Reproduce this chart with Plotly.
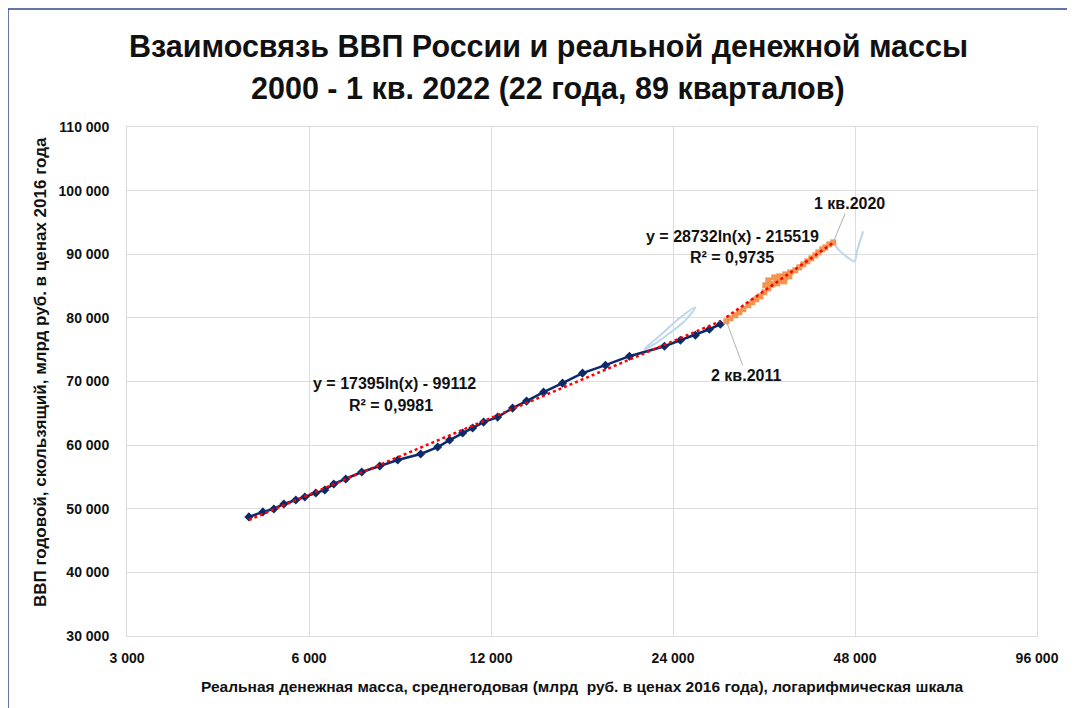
import numpy as np
import plotly.graph_objects as go

# ---- data ----
blue_x = [4772, 5033, 5248, 5452, 5706, 5905, 6157, 6372, 6594, 6902, 7335, 7855, 8411, 9180,
          9794, 10251, 10771, 11189, 11667, 12305, 13027, 13740, 14659, 15757, 17003, 18557,
          20331, 23229, 24687, 26136, 27566, 28744]
blue_y = [48717, 49501, 49972, 50756, 51384, 51855, 52482, 52953, 53894, 54679, 55777, 56718,
          57659, 58601, 59699, 60797, 61895, 62680, 63621, 64405, 65817, 66916, 68328, 69740,
          71309, 72564, 73976, 75544, 76486, 77270, 78211, 78996]

orange_x = [29408, 29858, 30432, 30899, 31372, 31975, 32465, 32963, 33468, 33982, 34503, 35032,
            35569, 36114, 36808, 37373, 36668, 35705, 34766, 34111, 34503, 35300, 35977, 36808,
            37515, 38236, 38822, 39417, 40022, 40635, 41258, 41732, 42372, 42859, 43516, 44183]
orange_y = [79467, 79938, 80409, 80880, 81350, 81978, 82449, 82919, 83390, 84017, 84645, 85272,
            85743, 86057, 86371, 86528, 85743, 85429, 85272, 85115, 85900, 86371, 86528, 86842,
            87155, 87469, 87940, 88410, 88881, 89352, 89822, 90293, 90764, 91077, 91548, 91862]

loop_x = [21526, 22965, 24593, 26136, 25066, 23675, 22361, 21526]
loop_y = [75075, 77428, 79938, 81664, 79467, 77585, 75859, 75075]

late_x = [44183, 45203, 46423, 47858, 48407, 48963, 49525]
late_y = [91862, 90607, 89665, 88881, 90607, 92176, 93589]

trend1 = dict(a=17395, b=-99112, x0=4772, x1=28744)
trend2 = dict(a=28732, b=-215519, x0=29408, x1=44183)

x_ticks = [3000, 6000, 12000, 24000, 48000, 96000]
x_ticktext = ["3 000", "6 000", "12 000", "24 000", "48 000", "96 000"]
y_ticks = [30000, 40000, 50000, 60000, 70000, 80000, 90000, 100000, 110000]
y_ticktext = ["30 000", "40 000", "50 000", "60 000", "70 000", "80 000", "90 000", "100 000", "110 000"]

title1 = "Взаимосвязь ВВП России и реальной денежной массы"
title2 = "2000 - 1 кв. 2022 (22 года, 89 кварталов)"
xtitle = "Реальная денежная масса, среднегодовая (млрд  руб. в ценах 2016 года), логарифмическая шкала"
ytitle = "ВВП годовой, скользящий, млрд руб. в ценах 2016 года"

FONT = "Liberation Sans, Arial, sans-serif"
NAVY = "#0b2a6b"
OFF = 8  # page body margin

fig = go.Figure()

fig.add_trace(go.Scatter(x=loop_x, y=loop_y, mode="lines", line=dict(color="#bdd7ee", width=2, shape="spline"),
                         hoverinfo="skip", showlegend=False))
fig.add_trace(go.Scatter(x=late_x, y=late_y, mode="lines", line=dict(color="#bdd7ee", width=2, shape="spline"),
                         hoverinfo="skip", showlegend=False))
fig.add_trace(go.Scatter(x=blue_x, y=blue_y, mode="lines+markers",
                         line=dict(color=NAVY, width=2.5),
                         marker=dict(symbol="diamond", size=7, color=NAVY), showlegend=False))
fig.add_trace(go.Scatter(x=orange_x, y=orange_y, mode="lines+markers",
                         line=dict(color="#ed7d31", width=2.5),
                         marker=dict(symbol="square", size=6, color="#f29550"), showlegend=False))

for t in (trend1, trend2):
    tx = np.geomspace(t["x0"], t["x1"], 60)
    ty = t["a"] * np.log(tx) + t["b"]
    fig.add_trace(go.Scatter(x=tx, y=ty, mode="lines", line=dict(color="#ff0000", width=2.5, dash="dot"),
                             hoverinfo="skip", showlegend=False))

L, R, T, B = 127, 1037, 127, 636
W, H = 1067, 700
def px(x):
    return (x - L) / (R - L)
def py(y):
    return (B - y) / (B - T)

ann = []
def text(x, y, s, size, bold=True, angle=0, color="#111111"):
    ann.append(dict(x=px(x), y=py(y), xref="paper", yref="paper", text=("<b>%s</b>" % s) if bold else s,
                    showarrow=False, xanchor="center", yanchor="middle", textangle=angle,
                    font=dict(family=FONT, size=size, color=color)))

text(548, 47, title1, 30.5)
text(548, 88, title2, 30.5)
text(40, 372, ytitle, 17)
ann[-1]["textangle"] = -90
text(582, 686, xtitle, 15.5)
text(394, 383, "y = 17395ln(x) - 99112", 16)
text(391, 405, "R² = 0,9981", 16)
text(732, 236, "y = 28732ln(x) - 215519", 16)
text(732, 257, "R² = 0,9735", 16)

ann.append(dict(x=np.log10(orange_x[-1]), y=orange_y[-1], xref="x", yref="y", text="<b>1 кв.2020</b>",
                showarrow=True, arrowhead=0, arrowwidth=1, arrowcolor="#b0b0b0", ax=16, ay=-39,
                font=dict(family=FONT, size=16, color="#111111")))
ann.append(dict(x=np.log10(orange_x[0]), y=orange_y[0], xref="x", yref="y", text="<b>2 кв.2011</b>",
                showarrow=True, arrowhead=0, arrowwidth=1, arrowcolor="#b0b0b0", ax=20, ay=54,
                font=dict(family=FONT, size=16, color="#111111")))

tickfont = dict(family=FONT, size=14, color="#111111", weight="bold")

fig.update_layout(
    width=W, height=H,
    margin=dict(l=L - OFF, r=W - (R - OFF), t=T - OFF, b=H - (B - OFF)),
    paper_bgcolor="white", plot_bgcolor="white",
    annotations=ann,
    shapes=[dict(type="rect", xref="paper", yref="paper", x0=px(8), y0=py(730), x1=px(1090), y1=py(9),
                 line=dict(color="#2f4b8c", width=1.5), layer="above")],
    xaxis=dict(type="log", range=[np.log10(3000), np.log10(96000)], tickvals=x_ticks,
               ticktext=x_ticktext,
               showgrid=True, gridcolor="#dcdcdc", gridwidth=1, showline=True, linecolor="#dcdcdc", mirror=True,
               ticks="", ticklabelstandoff=9, tickfont=tickfont, zeroline=False),
    yaxis=dict(range=[30000, 110000], tickvals=y_ticks,
               ticktext=y_ticktext,
               showgrid=True, gridcolor="#dcdcdc", gridwidth=1, showline=True, linecolor="#dcdcdc", mirror=True,
               ticks="", ticklabelstandoff=14, tickfont=tickfont, zeroline=False),
)

fig.write_html("out.html")
